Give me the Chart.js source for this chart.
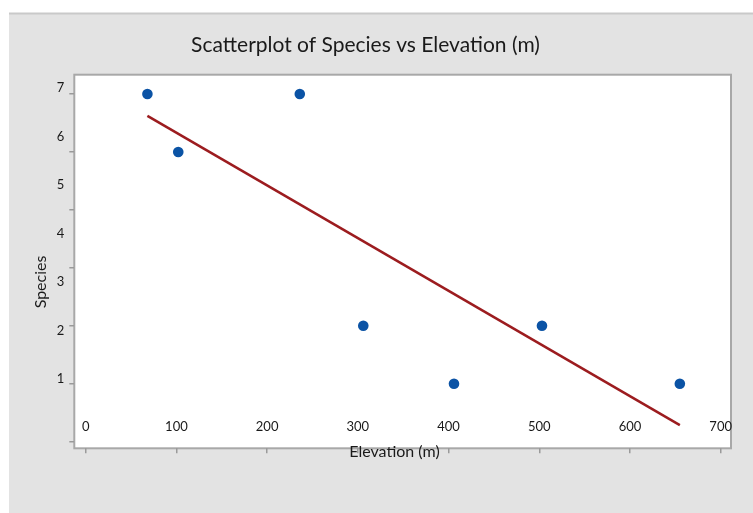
<!DOCTYPE html>
<html><head><meta charset="utf-8">
<script src="https://cdn.jsdelivr.net/npm/chart.js@4.4.1/dist/chart.umd.min.js"></script>
<style>html,body{margin:0;padding:0;background:#fff;overflow:hidden}canvas{display:block}</style>
</head><body>
<canvas id="c" width="753" height="513"></canvas>
<script>
// ---- data ----
// Points sit on the tick marks (spaced ~58 px); values below are read on that tick scale.
const elevation = [68, 102, 236, 306, 406, 503, 655];
const species   = [7, 6, 7, 3, 2, 3, 2];
const xTickLabels = ['0', '100', '200', '300', '400', '500', '600', '700'];
// Tick labels as printed in the reference (spaced ~48 px, not aligned with the tick marks)
const yTickLabels = ['1', '2', '3', '4', '5', '6', '7'];
const chartTitle = 'Scatterplot of Species vs Elevation (m)';
const xTitle = 'Elevation (m)';
const yTitle = 'Species';

// least-squares fit line from the data
const n = elevation.length;
const mx = elevation.reduce((a, b) => a + b, 0) / n;
const my = species.reduce((a, b) => a + b, 0) / n;
let sxy = 0, sxx = 0;
for (let i = 0; i < n; i++) { sxy += (elevation[i] - mx) * (species[i] - my); sxx += (elevation[i] - mx) ** 2; }
const slope = sxy / sxx, intercept = my - slope * mx;
const xMin = Math.min(...elevation), xMax = Math.max(...elevation);
const fitLine = [{ x: xMin, y: intercept + slope * xMin }, { x: xMax, y: intercept + slope * xMax }];

const FONT = 'Lato';
const frame = {
  id: 'frame',
  beforeDraw(chart) {
    const { ctx, chartArea: a } = chart;
    ctx.save();
    ctx.fillStyle = '#e3e3e3';
    ctx.fillRect(9, 13, 753 - 9, 513 - 13);
    ctx.fillStyle = '#c9c9c9';
    ctx.fillRect(9, 12.5, 753 - 9, 2);
    ctx.fillStyle = '#ffffff';
    ctx.fillRect(a.left, a.top, a.right - a.left, a.bottom - a.top);
    ctx.strokeStyle = '#a8a8a8';
    ctx.lineWidth = 2;
    ctx.strokeRect(a.left, a.top, a.right - a.left, a.bottom - a.top);
    ctx.restore();
  }
};

new Chart(document.getElementById('c'), {
  type: 'scatter',
  data: {
    datasets: [
      { data: elevation.map((x, i) => ({ x, y: species[i] })), pointRadius: 5.3, pointHoverRadius: 5.3,
        pointBackgroundColor: '#0b53a5', pointBorderWidth: 0, xAxisID: 'x', yAxisID: 'y', order: 1 },
      { data: fitLine, showLine: true, pointRadius: 0, borderColor: '#9c1c1f', borderWidth: 2.5,
        xAxisID: 'x', yAxisID: 'y', order: 2 }
    ]
  },
  options: {
    responsive: false,
    devicePixelRatio: 1,
    animation: false,
    events: [],
    layout: { padding: { left: 0, right: 22, top: 0, bottom: 51.7 } },
    plugins: {
      legend: { display: false },
      tooltip: { enabled: false },
      title: { display: true, text: chartTitle, color: '#1a1a1a',
        font: { family: FONT, size: 21, weight: 'normal' }, padding: { top: 32.2, bottom: 17.3 } }
    },
    scales: {
      x: {
        type: 'linear', position: 'bottom', min: -12.6, max: 711.4,
        border: { display: false },
        grid: { drawOnChartArea: false, drawTicks: true, tickLength: 5, color: '#9a9a9a', lineWidth: 1.5 },
        ticks: { stepSize: 100, includeBounds: false, mirror: true, padding: 14, color: '#1a1a1a',
          font: { family: FONT, size: 13 }, maxRotation: 0, autoSkip: false,
          callback: v => xTickLabels[Math.round(v / 100)] },
        title: { display: true, text: xTitle + '    ', color: '#1a1a1a', font: { family: FONT, size: 16 }, padding: 0 },
        afterFit: s => { s.height = 13; }
      },
      y: {
        type: 'linear', position: 'left', weight: 0, min: 0.886, max: 7.333,
        border: { display: false },
        grid: { drawOnChartArea: false, drawTicks: true, tickLength: 5, color: '#9a9a9a', lineWidth: 1.5 },
        ticks: { display: false, stepSize: 1, includeBounds: false },
        afterFit: s => { s.width = 5; }
      },
      yL: {
        type: 'linear', position: 'left', weight: 1, min: -0.423, max: 7.280,
        border: { display: false },
        grid: { display: false, drawTicks: false },
        ticks: { stepSize: 1, includeBounds: false, padding: 5, color: '#1a1a1a',
          font: { family: FONT, size: 13 },
          callback: v => (v >= 1 && v <= 7 ? yTickLabels[v - 1] : null) },
        title: { display: true, text: yTitle + '          ', color: '#1a1a1a',
          font: { family: FONT, size: 16 }, padding: { top: 31, bottom: 0 } },
        afterFit: s => { s.width = 69.3; }
      }
    }
  },
  plugins: [frame]
});
</script>
</body></html>
